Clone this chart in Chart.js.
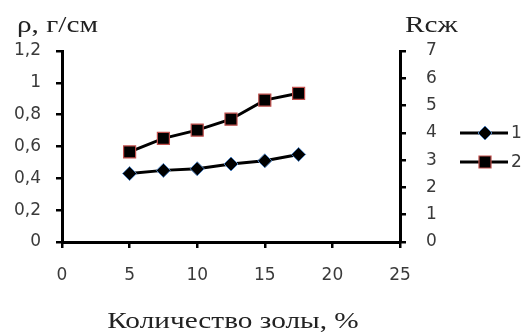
<!DOCTYPE html>
<html>
<head>
<meta charset="utf-8">
<script src="https://cdn.jsdelivr.net/npm/chart.js@4/dist/chart.umd.min.js"></script>
<style>
  html, body { margin: 0; padding: 0; background: #fff; }
  #wrap { width: 529px; height: 333px; }
</style>
</head>
<body>
<div id="wrap"><canvas id="ashChart"></canvas></div>
<script>
// Data
const ashPercent = [5, 7.5, 10, 12.5, 15, 17.5];
const density = [0.43, 0.45, 0.46, 0.49, 0.51, 0.55];   // series 1, left axis
const strength = [3.3, 3.8, 4.1, 4.5, 5.2, 5.45];       // series 2, right axis
const seriesNames = ['1', '2'];
const xTitle = 'Количество золы, %';
const leftTitle = 'ρ, г/см';
const rightTitle = 'Rсж';

const tickFont = { family: 'DejaVu Sans', size: 17 };
const tickColor = '#3a3a3a';

function toPoints(xs, ys) {
  return xs.map((x, i) => ({ x: x, y: ys[i] }));
}

// serif titles in the picture are stretched sideways
function wideText(ctx, text, x, y, align) {
  ctx.save();
  ctx.translate(x, y);
  ctx.scale(1.22, 1);
  ctx.textAlign = align;
  ctx.fillText(text, 0, 0);
  ctx.restore();
}

// titles + legend drawn by hand
const extrasPlugin = {
  id: 'extras',
  afterDraw(chart) {
    const ctx = chart.ctx;
    ctx.save();
    ctx.fillStyle = '#222';
    ctx.textBaseline = 'alphabetic';
    ctx.font = '24px "Liberation Serif"';
    wideText(ctx, leftTitle, 17, 32, 'left');
    wideText(ctx, rightTitle, 405, 32, 'left');
    wideText(ctx, xTitle, 233, 328, 'center');

    // legend
    const rows = [133, 162];
    chart.data.datasets.forEach((ds, i) => {
      const y = rows[i];
      ctx.strokeStyle = ds.borderColor;
      ctx.lineWidth = 3;
      ctx.beginPath();
      ctx.moveTo(460, y);
      ctx.lineTo(508, y);
      ctx.stroke();
      ctx.fillStyle = ds.pointBackgroundColor;
      ctx.strokeStyle = ds.pointBorderColor;
      ctx.lineWidth = ds.pointBorderWidth;
      Chart.helpers.drawPoint(ctx, {
        pointStyle: ds.pointStyle,
        radius: ds.pointRadius,
        borderWidth: ds.pointBorderWidth,
        rotation: 0
      }, 485, y);
      ctx.fillStyle = tickColor;
      ctx.font = '17px "DejaVu Sans"';
      ctx.textAlign = 'left';
      ctx.textBaseline = 'middle';
      ctx.fillText(ds.label, 511, y + 1);
    });
    ctx.restore();
  }
};

const axisGrid = {
  display: true,
  drawOnChartArea: false,
  drawTicks: true,
  tickLength: 6,
  color: '#000',
  lineWidth: 2.5
};
const axisBorder = { display: true, color: '#000', width: 3 };

new Chart(document.getElementById('ashChart').getContext('2d'), {
  type: 'line',
  data: {
    datasets: [{
      label: seriesNames[0],
      data: toPoints(ashPercent, density),
      yAxisID: 'y',
      borderColor: '#000',
      borderWidth: 3,
      pointStyle: 'rectRot',
      pointRadius: 7,
      pointBackgroundColor: '#000',
      pointBorderColor: '#4f81bd',
      pointBorderWidth: 1,
      tension: 0
    }, {
      label: seriesNames[1],
      data: toPoints(ashPercent, strength),
      yAxisID: 'y1',
      borderColor: '#000',
      borderWidth: 3,
      pointStyle: 'rect',
      pointRadius: 8.5,
      pointBackgroundColor: '#000',
      pointBorderColor: '#c0504d',
      pointBorderWidth: 1.2,
      tension: 0
    }]
  },
  options: {
    responsive: true,
    maintainAspectRatio: false,
    animation: false,
    layout: { padding: { top: 51, left: 0, right: 0, bottom: 0 } },
    plugins: {
      legend: { display: false },
      tooltip: { enabled: false }
    },
    scales: {
      x: {
        type: 'linear',
        min: 0,
        max: 25,
        ticks: { stepSize: 5, font: tickFont, color: tickColor, padding: 17, maxRotation: 0 },
        grid: axisGrid,
        border: axisBorder,
        afterFit: function(scale) { scale.height = 91; }
      },
      y: {
        position: 'left',
        min: 0,
        max: 1.2,
        ticks: {
          stepSize: 0.2,
          font: tickFont,
          color: tickColor,
          padding: 15,
          callback: function(value) {
            return String(Math.round(value * 10) / 10).replace('.', ',');
          }
        },
        grid: axisGrid,
        border: axisBorder,
        afterFit: function(scale) { scale.width = 62; }
      },
      y1: {
        position: 'right',
        min: 0,
        max: 7,
        ticks: { stepSize: 1, font: tickFont, color: tickColor, padding: 20 },
        grid: axisGrid,
        border: axisBorder,
        afterFit: function(scale) { scale.width = 129; }
      }
    }
  },
  plugins: [extrasPlugin]
});
</script>
</body>
</html>
